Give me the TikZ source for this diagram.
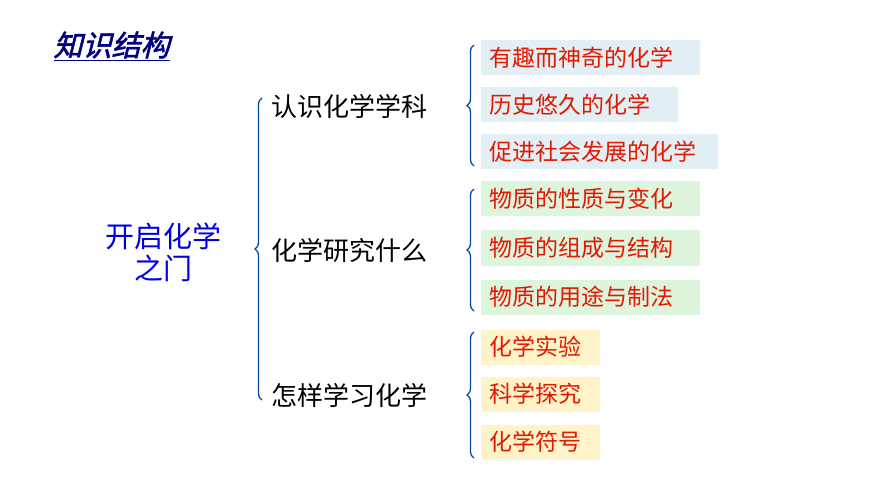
\documentclass[tikz,border=0pt]{standalone}
\usepackage{fontspec}
\setmainfont{Noto Sans CJK SC}
\newfontfamily\slfont[FakeSlant=0.25,FakeBold=2]{Noto Sans CJK SC}
\usetikzlibrary{decorations.pathreplacing}
\begin{document}
\begin{tikzpicture}[x=1pt,y=-1pt,
  br/.style={draw=black!10!blue!60!cyan!70!black,line width=1.3pt,decorate,decoration={brace,amplitude=7pt,mirror}},
  leaf/.style={anchor=west,inner xsep=8pt,minimum height=35pt,text=red!80!orange!90!black,font=\fontsize{23}{24}\selectfont},
  bl/.style={leaf,fill=blue!25!cyan!8!white!92!gray},
  gr/.style={leaf,fill=green!50!gray!18},
  ye/.style={leaf,fill=yellow!60!orange!20},
  mid/.style={anchor=west,font=\fontsize{26}{28}\selectfont}]
\useasboundingbox (0,0) rectangle (870,489);
\node[anchor=west,text=blue!50!black,font=\slfont\fontsize{29}{30}\selectfont] (t) at (50,46) {\underline{知识结构}};
\node[text=blue!90!black,align=center,font=\fontsize{29}{32}\selectfont] (root) at (163,252) {开启化学\\之门};
\node[mid] (m1) at (268,107) {认识化学学科};
\node[mid] (m2) at (268,251) {化学研究什么};
\node[mid] (m3) at (268,396) {怎样学习化学};
\draw[br] (262,98) -- (262,400);
\node[bl,text width=203pt] (a1) at (481,58) {有趣而神奇的化学};
\node[bl,text width=181pt] (a2) at (481,105) {历史悠久的化学};
\node[bl,text width=221pt] (a3) at (481,152) {促进社会发展的化学};
\node[gr,text width=203pt] (b1) at (481,199) {物质的性质与变化};
\node[gr,text width=203pt] (b2) at (481,248) {物质的组成与结构};
\node[gr,text width=203pt] (b3) at (481,297) {物质的用途与制法};
\node[ye,text width=103pt] (c1) at (481,347) {化学实验};
\node[ye,text width=103pt] (c2) at (481,394) {科学探究};
\node[ye,text width=103pt] (c3) at (481,442) {化学符号};
\draw[br] (474,45) -- (474,166);
\draw[br] (474,189) -- (474,311);
\draw[br] (474,332) -- (474,458);
\end{tikzpicture}
\end{document}
